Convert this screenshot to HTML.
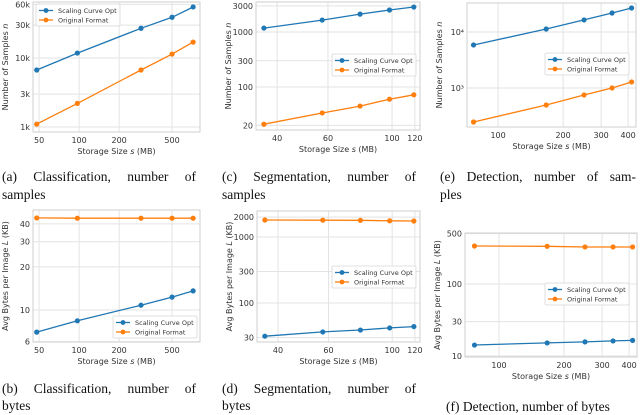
<!DOCTYPE html>
<html><head><meta charset="utf-8"><style>
html,body{margin:0;padding:0;background:#fff;}
svg{display:block;}
.tk{font-family:"DejaVu Sans","Liberation Sans",sans-serif;font-size:8px;fill:#333;}
.lb{font-family:"DejaVu Sans","Liberation Sans",sans-serif;font-size:8px;fill:#333;}
.lg{font-family:"DejaVu Sans","Liberation Sans",sans-serif;font-size:6.5px;fill:#333;}
.cap{font-family:"Liberation Serif",serif;font-size:13.5px;fill:#111;}
</style></head><body>
<svg id="fig" width="640" height="415" viewBox="0 0 640 415" xmlns="http://www.w3.org/2000/svg">
<text class="cap jus" data-w="194" x="2" y="181">(a) Classification, number of</text>
<text class="cap" x="2" y="199">samples</text>
<text class="cap jus" data-w="194" x="222" y="181">(c) Segmentation, number of</text>
<text class="cap" x="222" y="199">samples</text>
<text class="cap jus" data-w="196" x="440" y="181">(e) Detection, number of sam-</text>
<text class="cap" x="440" y="199">ples</text>
<text class="cap jus" data-w="194" x="2" y="393">(b) Classification, number of</text>
<text class="cap" x="2" y="410">bytes</text>
<text class="cap jus" data-w="194" x="222" y="393">(d) Segmentation, number of</text>
<text class="cap" x="222" y="410">bytes</text>
<text class="cap" x="446" y="411">(f) Detection, number of bytes</text>
</svg>
<script>
// Panel (a): classification, samples
const aSizes = [48, 97, 292, 500, 720];
const aOpt = [6700, 11800, 27000, 39000, 55000];
const aOrig = [1100, 2200, 6700, 11400, 17000];
const aXTicks = [50, 100, 200, 500];
const aXTickLabels = ["50", "100", "200", "500"];
const aYTicks = [1000, 3000, 10000, 30000, 60000];
const aYTickLabels = ["1k", "3k", "10k", "30k", "60k"];
// Panel (b): classification, bytes
const bSizes = [48, 97, 292, 500, 720];
const bOpt = [7.0, 8.4, 10.8, 12.3, 13.6];
const bOrig = [44, 43.8, 43.8, 43.8, 43.8];
const bXTicks = [50, 100, 200, 500];
const bXTickLabels = ["50", "100", "200", "500"];
const bYTicks = [6, 10, 20, 30, 40];
const bYTickLabels = ["6", "10", "20", "30", "40"];
// Panel (c): segmentation, samples
const cSizes = [36, 57.3, 77.5, 98, 119];
const cOpt = [1180, 1650, 2120, 2520, 2850];
const cOrig = [21, 33.7, 45, 60, 72];
const cXTicks = [40, 60, 100, 120];
const cXTickLabels = ["40", "60", "100", "120"];
const cYTicks = [20, 100, 300, 1000, 3000];
const cYTickLabels = ["20", "100", "300", "1000", "3000"];
// Panel (d): segmentation, bytes
const dSizes = [36, 57.3, 77.5, 98, 119];
const dOpt = [31.5, 36.5, 39, 42, 44];
const dOrig = [1810, 1800, 1790, 1760, 1750];
const dXTicks = [40, 60, 100, 120];
const dXTickLabels = ["40", "60", "100", "120"];
const dYTicks = [30, 100, 300, 1000, 2000];
const dYTickLabels = ["30", "100", "300", "1000", "2000"];
// Panel (e): detection, samples
const eSizes = [77, 167, 250, 337, 415];
const eOpt = [5860, 11300, 16400, 21800, 26800];
const eOrig = [247, 497, 750, 1000, 1280];
const eXTicks = [100, 200, 300, 400];
const eXTickLabels = ["100", "200", "300", "400"];
const eYTicks = [1000, 10000];
const eYTickLabels = ["10³", "10⁴"];
// Panel (f): detection, bytes
const fSizes = [77, 167, 250, 337, 415];
const fOpt = [14.2, 15.2, 15.7, 16.2, 16.5];
const fOrig = [337, 334, 327, 327, 327];
const fXTicks = [100, 200, 300, 400];
const fXTickLabels = ["100", "200", "300", "400"];
const fYTicks = [10, 30, 100, 500];
const fYTickLabels = ["10", "30", "100", "500"];

const NS = "http://www.w3.org/2000/svg";
const svg = document.getElementById("fig");
function mk(tag, attrs, parent, text) {
  const e = document.createElementNS(NS, tag);
  for (const k in attrs) e.setAttribute(k, attrs[k]);
  if (text !== undefined) e.textContent = text;
  (parent || svg).appendChild(e);
  return e;
}
// justify caption lines by distributing word gaps
document.querySelectorAll("text.jus").forEach(t => {
  const words = t.textContent.split(" ");
  const x0 = parseFloat(t.getAttribute("x"));
  const W = parseFloat(t.getAttribute("data-w"));
  t.textContent = "";
  const spans = words.map(w => mk("tspan", {}, t, w));
  const widths = spans.map(s => s.getComputedTextLength());
  const total = widths.reduce((a, b) => a + b, 0);
  const gap = (W - total) / (words.length - 1);
  let x = x0;
  spans.forEach((s, i) => { s.setAttribute("x", x.toFixed(1)); x += widths[i] + gap; });
});
function logScale(d0, d1, r0, r1) {
  const l0 = Math.log10(d0), l1 = Math.log10(d1);
  return v => r0 + (Math.log10(v) - l0) / (l1 - l0) * (r1 - r0);
}
function panel(id, box, xdom, ydom, sizes, opt, orig, xt, xtl, yt, ytl, ylabel, legendPos) {
  const g = mk("g", {});
  
  
  const [L, T, R, B] = box;
  const xs = logScale(xdom[0], xdom[1], L, R);
  const ys = logScale(ydom[0], ydom[1], B, T);
  xt.forEach((v, i) => {
    const x = xs(v);
    const gl = mk("line", {x1: x, x2: x, y1: T, y2: B, stroke: "#e3e3e3", "stroke-width": 1}, g);
    
    
    const t = mk("text", {x: x, y: B + 11, "text-anchor": "middle", class: "tk"}, g, xtl[i]);
    
    
  });
  yt.forEach((v, i) => {
    const y = ys(v);
    const gl = mk("line", {x1: L, x2: R, y1: y, y2: y, stroke: "#e3e3e3", "stroke-width": 1}, g);
    
    
    const t = mk("text", {x: L - 3, y: y + 3, "text-anchor": "end", class: "tk"}, g, ytl[i]);
    
    
  });
  const fr = mk("rect", {x: L, y: T, width: R - L, height: B - T, fill: "none", stroke: "#cfcfcf", "stroke-width": 1}, g);
  
  
  const xl = mk("text", {x: (L + R) / 2, y: B + 22, "text-anchor": "middle", class: "lb"}, g, "Storage Size ");
  mk("tspan", {"font-style": "italic"}, xl, "s");
  mk("tspan", {}, xl, " (MB)");
  
  
  const cy = (T + B) / 2, cx = L - 25;
  const yl = mk("text", {x: cx, y: cy, "text-anchor": "middle", class: "lb", transform: `rotate(-90 ${cx} ${cy})`}, g, ylabel[0]);
  mk("tspan", {"font-style": "italic"}, yl, ylabel[1]);
  mk("tspan", {}, yl, ylabel[2]);
  
  
  [[opt, "#1f77b4", "scaling-curve-opt"], [orig, "#ff7f0e", "original-format"]].forEach(([vals, col, nm]) => {
    const pts = sizes.map((s, i) => xs(s).toFixed(1) + "," + ys(vals[i]).toFixed(1)).join(" ");
    const pl = mk("polyline", {points: pts, fill: "none", stroke: col, "stroke-width": 1.3}, g);
    
    
    sizes.forEach((s, i) => {
      const c = mk("circle", {cx: xs(s), cy: ys(vals[i]), r: 2.6, fill: col}, g);
      
      
    });
  });
  const [lx, ly] = legendPos;
  const lg = mk("g", {}, g);
  
  
  mk("rect", {x: lx, y: ly, width: 84, height: 22, fill: "#fff", "fill-opacity": 0.85, stroke: "#d8d8d8", "stroke-width": 0.8, rx: 1.5}, lg);
  [["Scaling Curve Opt", "#1f77b4"], ["Original Format", "#ff7f0e"]].forEach(([txt, col], i) => {
    const yy = ly + 6.5 + i * 9.5;
    mk("line", {x1: lx + 3, x2: lx + 17, y1: yy, y2: yy, stroke: col, "stroke-width": 1.3}, lg);
    mk("circle", {cx: lx + 10, cy: yy, r: 2.4, fill: col}, lg);
    const t = mk("text", {x: lx + 22, y: yy + 2.3, class: "lg"}, lg, txt);
    
    
  });
}
const nLab = ["Number of Samples ", "n", ""];
const bLab = ["Avg Bytes per Image ", "L", " (KB)"];
panel("a", [33, 2, 200, 132], [45, 811], [846, 64900], aSizes, aOpt, aOrig, aXTicks, aXTickLabels, aYTicks, aYTickLabels, nLab, [36, 4]);
panel("b", [33, 210, 200, 342], [45, 811], [5.97, 50], bSizes, bOpt, bOrig, bXTicks, bXTickLabels, bYTicks, bYTickLabels, bLab, [113, 316]);
panel("c", [256, 2, 420, 130], [33.8, 125], [16.5, 3520], cSizes, cOpt, cOrig, cXTicks, cXTickLabels, cYTicks, cYTickLabels, nLab, [332, 54]);
panel("d", [257, 211, 420, 342], [33.8, 125], [25.7, 2480], dSizes, dOpt, dOrig, dXTicks, dXTickLabels, dYTicks, dYTickLabels, bLab, [332, 266]);
panel("e", [467, 3, 636, 127], [71.8, 435], [201, 32900], eSizes, eOpt, eOrig, eXTicks, eXTickLabels, eYTicks, eYTickLabels, nLab, [545, 53]);
panel("f", [465, 233, 637, 357], [69.6, 435], [9.69, 511], fSizes, fOpt, fOrig, fXTicks, fXTickLabels, fYTicks, fYTickLabels, bLab, [545, 283]);
</script>
</body></html>
